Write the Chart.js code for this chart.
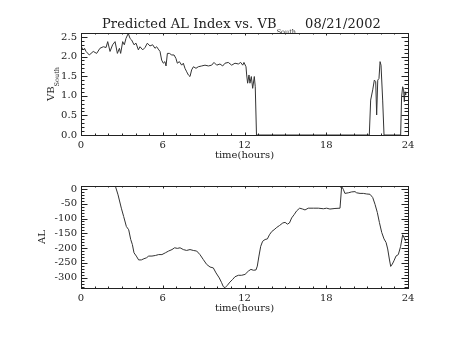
<!DOCTYPE html>
<html>
<head>
<meta charset="utf-8">
<script src="https://cdn.jsdelivr.net/npm/chart.js@4"></script>
<style>
  body { margin: 0; background: #fff; font-family: 'DejaVu Serif', serif; color: #000; }
  #page { position: relative; width: 453px; height: 340px; overflow: hidden; }
  .panel { position: absolute; left: 0; width: 453px; height: 170px; }
  .title { position: absolute; left: 102px; top: 16px; font-size: 13px; line-height: 15px; white-space: pre;
           letter-spacing: 0.1px; color: #222; }
  .sub { font-size: 6.5px; vertical-align: -6px; letter-spacing: 0; }
  .date { margin-left: 9px; }
  .ylab { position: absolute; left: 54px; top: 84px; font-size: 10px; line-height: 12px; white-space: nowrap;
          transform: translate(-50%, -50%) rotate(-90deg); color: #222; }
  .ylab .sub { vertical-align: -5px; }
</style>
</head>
<body>
<div id="page">
  <div class="panel" style="top:0"><canvas id="vbChart" width="453" height="170"></canvas></div>
  <div class="panel" style="top:170px"><canvas id="alChart" width="453" height="170"></canvas></div>
  <div class="title">Predicted AL Index vs. VB<span class="sub">South</span><span class="date">08/21/2002</span></div>
  <div class="ylab">VB<span class="sub">South</span></div>
</div>
<script>
// hours of the day, VB South
const vbHours = [0, 0.15, 0.26, 0.37, 0.61, 0.90, 1.15, 1.39, 1.64, 1.84, 1.96, 2.13, 2.32, 2.50, 2.67, 2.82,
  2.91, 3.06, 3.18, 3.30, 3.47, 3.60, 3.72, 3.89, 4.04, 4.21, 4.33, 4.53, 4.70, 4.87, 5.06, 5.26, 5.43,
  5.55, 5.67, 5.80, 5.92, 6.04, 6.16, 6.24, 6.34, 6.49, 6.66, 6.83, 6.97, 7.07, 7.22, 7.39, 7.51, 7.63,
  7.76, 7.88, 8.00, 8.12, 8.25, 8.44, 8.61, 8.86, 9.10, 9.35, 9.59, 9.76, 9.96, 10.20, 10.40, 10.57,
  10.81, 11.06, 11.30, 11.55, 11.72, 11.87, 11.96, 12.11, 12.16, 12.23, 12.33, 12.40, 12.50, 12.60,
  12.72, 12.79, 12.88, 21.16, 21.26, 21.41, 21.53, 21.63, 21.70, 21.78, 21.87, 21.95, 22.02, 22.14,
  22.24, 23.46, 23.53, 23.61, 23.68, 23.73, 23.78, 23.83];
const vbValues = [2.27, 2.17, 2.21, 2.13, 2.04, 2.13, 2.08, 2.21, 2.25, 2.23, 2.38, 2.13, 2.30, 2.38, 2.08, 2.21,
  2.08, 2.38, 2.30, 2.46, 2.59, 2.46, 2.42, 2.30, 2.34, 2.17, 2.25, 2.17, 2.23, 2.34, 2.27, 2.30, 2.21,
  2.25, 2.19, 2.13, 1.91, 1.83, 1.87, 1.76, 2.08, 2.08, 2.04, 2.04, 1.95, 1.83, 1.87, 1.78, 1.83, 1.70,
  1.61, 1.53, 1.49, 1.66, 1.74, 1.70, 1.74, 1.76, 1.78, 1.76, 1.78, 1.85, 1.78, 1.81, 1.76, 1.83,
  1.85, 1.78, 1.83, 1.81, 1.85, 1.78, 1.85, 1.74, 1.53, 1.32, 1.53, 1.32, 1.49, 1.19,
  1.49, 1.23, 0, 0, 0.89, 1.15, 1.40, 1.36, 0.51, 1.40, 1.44, 1.87, 1.78, 0.89,
  0, 0, 0.98, 1.23, 1.15, 0.85, 1.10, 1.02];

// hours of the day, predicted AL
const alHours = [2.52, 2.72, 2.96, 3.13, 3.33, 3.50, 3.65, 3.77, 3.89, 4.06, 4.23, 4.43, 4.62, 4.80, 4.97,
  5.21, 5.46, 5.70, 5.94, 6.19, 6.43, 6.68, 6.87, 7.07, 7.27, 7.51, 7.75, 8.00, 8.24, 8.49, 8.73, 8.98,
  9.22, 9.47, 9.71, 9.91, 10.15, 10.32, 10.44, 10.57, 10.74, 10.93, 11.13, 11.30, 11.55, 11.79, 12.04,
  12.28, 12.47, 12.65, 12.84, 12.94, 13.06, 13.19, 13.33, 13.51, 13.68, 13.83, 14.00, 14.17, 14.37,
  14.56, 14.81, 14.98, 15.15, 15.30, 15.46, 15.64, 15.83, 16.05, 16.27, 16.44, 16.68, 17.05, 17.42,
  17.79, 18.03, 18.27, 18.64, 19.01, 19.08, 19.13, 19.25, 19.37, 19.62, 19.86, 20.11, 20.23, 20.48,
  20.72, 20.97, 21.21, 21.41, 21.58, 21.75, 21.90, 22.07, 22.24, 22.39, 22.51, 22.63, 22.73, 22.85,
  22.97, 23.12, 23.29, 23.46, 23.61, 23.73, 23.83];
const alValues = [10, -20, -65, -93, -127, -138, -171, -188, -216, -227, -240, -240, -236, -233, -227,
  -227, -225, -222, -222, -216, -210, -205, -199, -201, -199, -205, -208, -205, -208, -210, -222, -239,
  -255, -264, -267, -284, -301, -317, -330, -334, -326, -315, -306, -297, -292, -292, -289,
  -278, -272, -275, -274, -261, -227, -194, -177, -171, -169, -155, -144, -138, -130,
  -124, -115, -113, -119, -115, -98, -87, -74, -65, -68, -71, -65, -65, -65,
  -67, -65, -68, -66, -65, -65, 8, -1, -15, -13, -10, -9, -13, -15,
  -15, -17, -18, -29, -52, -80, -113, -147, -169, -181, -203, -237, -262, -254,
  -243, -227, -222, -194, -155, -166, -177];

const xTicks = [0, 6, 12, 18, 24];

const tickFont = { family: 'DejaVu Serif', size: 10 };

// IDL style box: axes on four sides with inward major/minor ticks
const boxTicks = {
  id: 'boxTicks',
  afterDraw(chart) {
    const { ctx, chartArea: a, scales } = chart;
    const x = scales.x, y = scales.y;
    ctx.save();
    ctx.strokeStyle = '#222';
    ctx.lineWidth = 1;
    ctx.strokeRect(a.left + 0.5, a.top + 0.5, a.right - a.left, a.bottom - a.top);
    ctx.beginPath();
    const xMinor = chart.options.scales.x.ticks.stepSize / 6;
    for (let v = x.min; v <= x.max + 1e-9; v += xMinor) {
      const px = Math.round(x.getPixelForValue(v)) + 0.5;
      const major = Math.abs(v / (xMinor * 6) - Math.round(v / (xMinor * 6))) < 1e-6;
      const len = major ? 2.5 : 1.5;
      ctx.moveTo(px, a.bottom); ctx.lineTo(px, a.bottom - len);
      ctx.moveTo(px, a.top); ctx.lineTo(px, a.top + len);
    }
    const yStep = chart.options.scales.y.ticks.stepSize;
    const yMinor = yStep / 5;
    const start = Math.ceil(y.min / yMinor - 1e-6) * yMinor;
    for (let v = start; v <= y.max + 1e-9; v += yMinor) {
      const py = Math.round(y.getPixelForValue(v)) + 0.5;
      const major = Math.abs(v / yStep - Math.round(v / yStep)) < 1e-6;
      const len = major ? 6.5 : 3.5;
      ctx.moveTo(a.left, py); ctx.lineTo(a.left + len, py);
      ctx.moveTo(a.right, py); ctx.lineTo(a.right - len, py);
    }
    ctx.stroke();
    ctx.restore();
  }
};

function makeChart(id, hours, values, yOpts, padTop, padBottom, yTitle) {
  return new Chart(document.getElementById(id), {
    type: 'scatter',
    data: {
      datasets: [{
        data: hours.map((h, i) => ({ x: h, y: values[i] })),
        showLine: true,
        borderColor: '#333',
        borderWidth: 1,
        pointRadius: 0,
        tension: 0
      }]
    },
    options: {
      responsive: false,
      animation: false,
      devicePixelRatio: 1,
      layout: { padding: { left: 0, right: 45, top: padTop, bottom: padBottom } },
      plugins: { legend: { display: false }, tooltip: { enabled: false } },
      scales: {
        x: {
          type: 'linear', min: 0, max: 24,
          afterFit: s => { s.height = 35; },
          afterBuildTicks: s => { s.ticks = xTicks.map(v => ({ value: v })); },
          grid: { display: false, drawTicks: false },
          border: { display: false },
          ticks: { stepSize: 6, padding: 4, color: '#222', font: tickFont, maxRotation: 0 },
          title: { display: true, text: 'time(hours)', color: '#222', font: tickFont, padding: { top: 0, bottom: 9 } }
        },
        y: Object.assign({
          type: 'linear',
          afterFit: s => { s.width = 81; },
          grid: { display: false, drawTicks: false },
          border: { display: false },
          title: yTitle ? { display: true, text: yTitle, color: '#222', font: tickFont, padding: { top: 36, bottom: 0 } } : { display: false }
        }, yOpts)
      }
    },
    plugins: [boxTicks]
  });
}

makeChart('vbChart', vbHours, vbValues, {
  min: 0, max: 2.6,
  ticks: { stepSize: 0.5, includeBounds: false, padding: 4, color: '#222', font: tickFont, callback: v => v.toFixed(1) }
}, 33, 0, null);

makeChart('alChart', alHours, alValues, {
  min: -335, max: 10,
  ticks: { stepSize: 50, includeBounds: false, padding: 4, color: '#222', font: tickFont }
}, 16, 17, 'AL');
</script>
</body>
</html>
